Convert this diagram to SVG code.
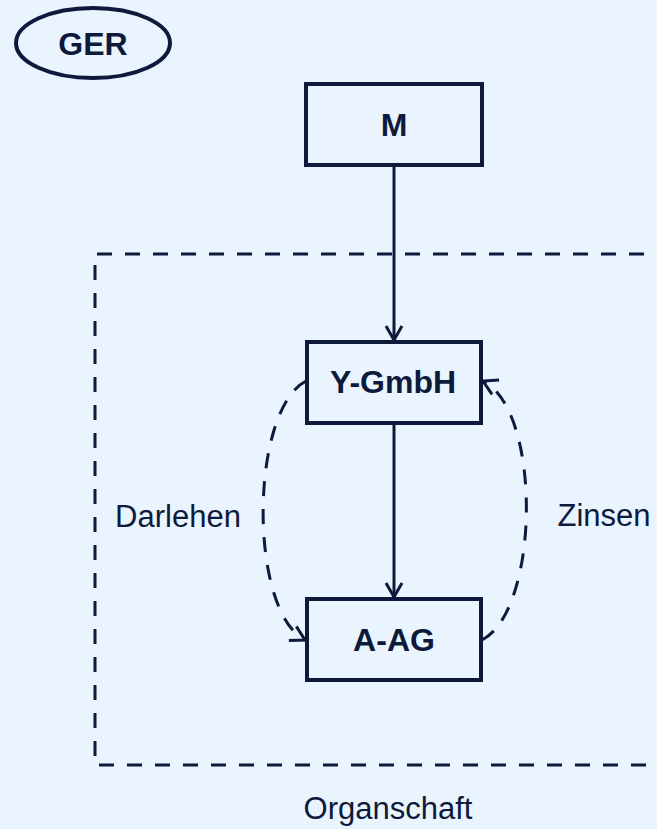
<svg xmlns="http://www.w3.org/2000/svg" width="657" height="829" viewBox="0 0 657 829">
<defs>
<style>
.bg{fill:#EAF4FE}
.box{fill:none;stroke:#0E1A3C;stroke-width:4}
.lbl{font-family:"Liberation Sans",Arial,sans-serif;font-size:32px;font-weight:bold;fill:#0E1A3C;text-anchor:middle}
.txt{font-family:"Liberation Sans",Arial,sans-serif;font-size:31px;fill:#0E1A3C;text-anchor:middle}
.edge{fill:none;stroke:#0E1A3C;stroke-width:3}
.dash{fill:none;stroke:#0E1A3C;stroke-width:3;stroke-dasharray:15 13}
</style>
<marker id="arr" viewBox="0 0 20 20" refX="18" refY="10" markerWidth="20" markerHeight="20" markerUnits="userSpaceOnUse" orient="auto">
<path d="M4,2 L18,10 L4,18" fill="none" stroke="#0E1A3C" stroke-width="3"/>
</marker>
</defs>
<rect class="bg" x="0" y="0" width="657" height="829"/>
<g id="organschaft">
<path class="dash" d="M700,254 H95 V765 H700"/>
<text class="txt" x="388" y="819">Organschaft</text>
</g>
<g id="ger">
<ellipse class="box" cx="93" cy="43" rx="77" ry="35" stroke-width="3"/>
<text class="lbl" x="93" y="55">GER</text>
</g>
<g id="m">
<rect class="box" x="306" y="84" width="176" height="81"/>
<text class="lbl" x="394" y="136">M</text>
</g>
<g id="ygmbh">
<rect class="box" x="307" y="342" width="174" height="81"/>
<text class="lbl" x="393" y="393">Y-GmbH</text>
</g>
<g id="aag">
<rect class="box" x="307" y="599" width="174" height="81"/>
<text class="lbl" x="394" y="651">A-AG</text>
</g>
<g id="connectors">
<line class="edge" x1="394" y1="165" x2="394" y2="340" marker-end="url(#arr)"/>
<line class="edge" x1="394" y1="423" x2="394" y2="597" marker-end="url(#arr)"/>
<path class="dash" d="M306,381 C250,410 248,610 305,640" marker-end="url(#arr)"/>
<path class="dash" d="M482,640 C540,610 542,410 483,381" marker-end="url(#arr)"/>
<text class="txt" x="178" y="527">Darlehen</text>
<text class="txt" x="604" y="526">Zinsen</text>
</g>
</svg>
